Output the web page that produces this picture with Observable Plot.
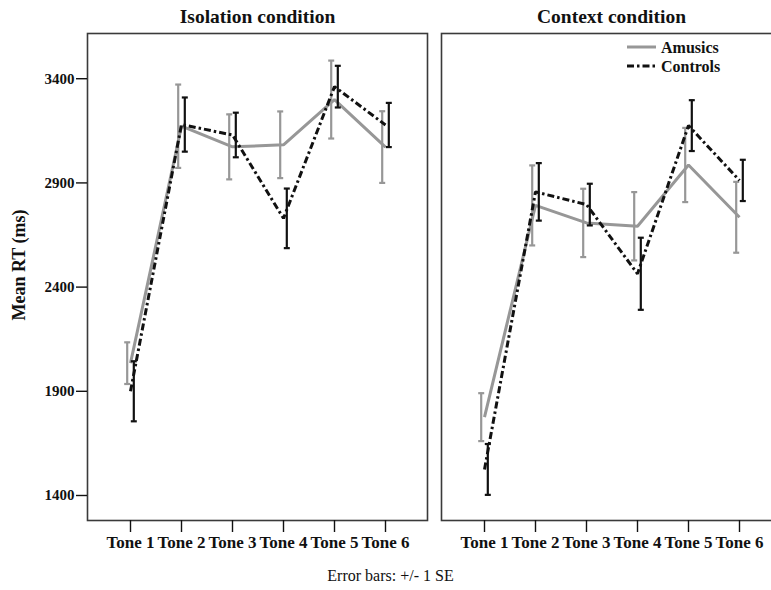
<!DOCTYPE html>
<html><head><meta charset="utf-8">
<script src="https://cdn.jsdelivr.net/npm/d3@7"></script>
<script src="https://cdn.jsdelivr.net/npm/@observablehq/plot@0.6"></script>
<style>
body{margin:0;background:#fff;}
#wrap{position:relative;width:771px;height:590px;overflow:hidden;font-family:"Liberation Serif","Times New Roman",serif;background:#fff;}
#chart{position:absolute;left:0;top:0;width:781px;}
#chart svg{max-width:none !important;}
#legend{position:absolute;left:627px;top:37px;}
#caption{position:absolute;left:0;top:567px;width:781px;text-align:center;font-size:16px;color:#111;}
</style></head><body>
<div id="wrap"><div id="chart"></div><div id="legend"></div><div id="caption">Error bars: +/- 1 SE</div></div>
<script>
const tones = ["Tone 1","Tone 2","Tone 3","Tone 4","Tone 5","Tone 6"];
const conditions = ["Isolation condition","Context condition"];
const groups = ["Amusics","Controls"];
const isoAmusicsMean  = [2035,3172,3073,3083,3300,3072];
const isoAmusicsSE    = [100,200,156,160,187,172];
const isoControlsMean = [1900,3180,3130,2730,3362,3178];
const isoControlsSE   = [144,130,107,143,100,106];
const ctxAmusicsMean  = [1776,2792,2708,2692,2986,2735];
const ctxAmusicsSE    = [115,192,164,164,178,170];
const ctxControlsMean = [1525,2857,2796,2464,3175,2912];
const ctxControlsSE   = [122,138,100,173,122,99];
const yTicks = [1400,1900,2400,2900,3400];
const yLabel = "Mean RT (ms)";

const series = [
  [conditions[0], groups[0], isoAmusicsMean, isoAmusicsSE],
  [conditions[0], groups[1], isoControlsMean, isoControlsSE],
  [conditions[1], groups[0], ctxAmusicsMean, ctxAmusicsSE],
  [conditions[1], groups[1], ctxControlsMean, ctxControlsSE]
];
const rows = [];
for (const [condition, group, m, s] of series)
  tones.forEach((tone, i) => rows.push({condition, group, tone, mean: m[i], se: s[i]}));

const style = {
  Amusics:  {stroke: "#979797", dash: null, dx: -3.3},
  Controls: {stroke: "#111111", dash: "7,3,2.5,3", dx: 3.3}
};
const cap = {draw(ctx, size){ const w = Math.sqrt(size/Math.PI); ctx.moveTo(-w,0); ctx.lineTo(w,0); }};

function groupMarks(g){
  const d = rows.filter(r => r.group === g);
  const st = style[g];
  const barW = 2.2;
  return [
    Plot.ruleX(d, {x:"tone", fx:"condition", y1: r => r.mean - r.se, y2: r => r.mean + r.se, dx: st.dx, stroke: st.stroke, strokeWidth: barW}),
    Plot.dot(d, {x:"tone", fx:"condition", y: r => r.mean + r.se, dx: st.dx, symbol: cap, r: 3, stroke: st.stroke, strokeWidth: barW, fill: "none"}),
    Plot.dot(d, {x:"tone", fx:"condition", y: r => r.mean - r.se, dx: st.dx, symbol: cap, r: 3, stroke: st.stroke, strokeWidth: barW, fill: "none"}),
    Plot.lineY(d, {x:"tone", fx:"condition", y:"mean", stroke: st.stroke, strokeWidth: 3, strokeDasharray: st.dash, strokeLinecap: "butt", strokeLinejoin: "miter"})
  ];
}

const chart = Plot.plot({
  width: 781, height: 560,
  marginLeft: 87, marginRight: 0, marginTop: 33, marginBottom: 40,
  style: {fontFamily: '"Liberation Serif","Times New Roman",serif', color: "#111", background: "#fff", maxWidth: "none"},
  fx: {domain: conditions, paddingInner: 0.0404, paddingOuter: 0, label: null},
  x: {type: "point", domain: tones, padding: 0.82, label: null},
  y: {domain: [1280, 3617], label: null},
  marks: [
    Plot.frame({stroke: "#3a3a3a", strokeWidth: 1.6}),
    Plot.axisY({ticks: yTicks, tickFormat: d3.format("d"), tickSize: 11, tickPadding: 2, fontSize: 15, fontWeight: "bold", label: null, strokeWidth: 1.4}),
    Plot.text([yLabel], {fx: () => conditions[0], text: d => d, frameAnchor: "left", rotate: -90, dx: -68, dy: -12, fontSize: 18, fontWeight: "bold", fill: "#111", textAnchor: "middle", lineAnchor: "middle"}),
    Plot.axisX({tickSize: 12, tickPadding: 3, fontSize: 17, fontWeight: "bold", label: null, strokeWidth: 1.4}),
    Plot.axisFx({anchor: "top", tickSize: 0, tickPadding: 11, fontSize: 19.5, fontWeight: "bold", label: null}),
    ...groupMarks("Amusics"),
    ...groupMarks("Controls")
  ]
});
document.getElementById("chart").append(chart);

// legend
const lg = d3.select("#legend").append("svg").attr("width", 140).attr("height", 40)
  .style("font-family", '"Liberation Serif","Times New Roman",serif');
groups.forEach((g, i) => {
  const y = 10 + i * 19;
  lg.append("line").attr("x1", 0).attr("x2", 29).attr("y1", y).attr("y2", y)
    .attr("stroke", style[g].stroke).attr("stroke-width", 3)
    .attr("stroke-dasharray", style[g].dash);
  lg.append("text").attr("x", 34).attr("y", y).attr("dy", "0.35em")
    .attr("font-size", 16).attr("font-weight", "bold").attr("fill", "#111").text(g);
});
</script>
</body></html>
